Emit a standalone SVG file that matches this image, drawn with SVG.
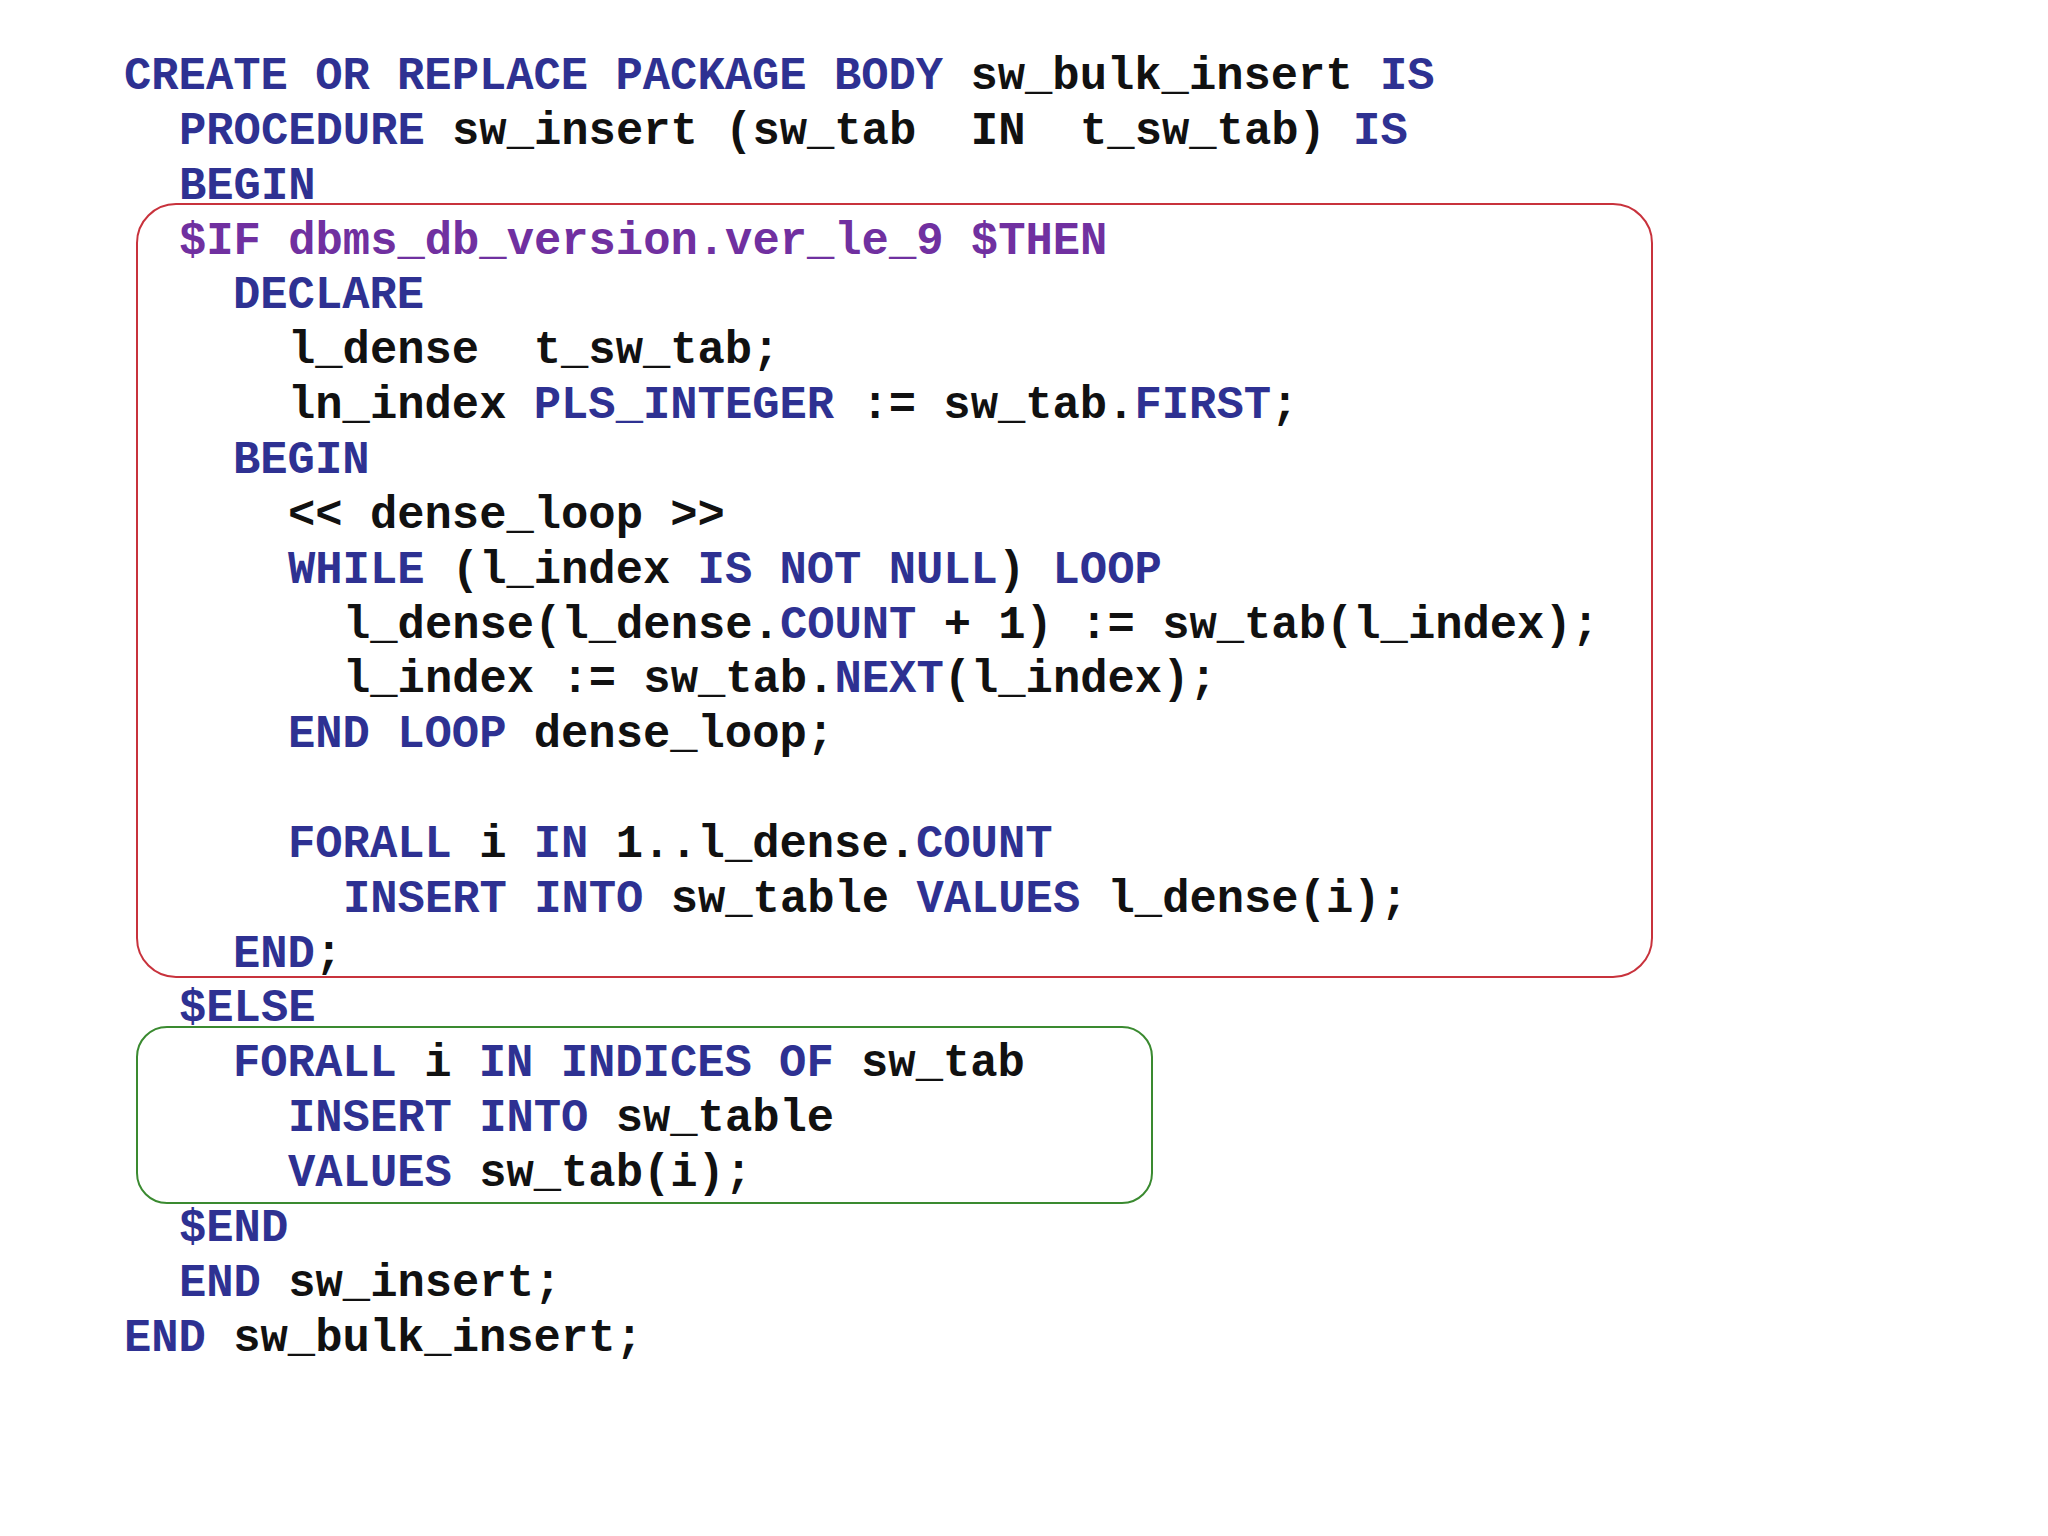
<svg xmlns="http://www.w3.org/2000/svg" width="2048" height="1536" viewBox="0 0 2048 1536">
<style>
text{font-family:"Liberation Mono","Courier New",monospace;font-weight:bold;font-size:45.5px;fill:#111;white-space:pre}
.k{fill:#2e3192}
.p{fill:#7030a0}
</style>
<rect width="2048" height="1536" fill="#fff"/>
<g id="boxes">
<rect id="ifbox" x="137" y="204" width="1515" height="773" rx="39" fill="none" stroke="#c8323c" stroke-width="2"/>
<rect id="elsebox" x="137" y="1027" width="1015" height="176" rx="30" fill="none" stroke="#3a8a30" stroke-width="2"/>
</g>
<g id="code" xml:space="preserve">
<text x="124" y="89"><tspan class="k">CREATE OR REPLACE PACKAGE BODY</tspan> sw_bulk_insert <tspan class="k">IS</tspan></text>
<text x="179" y="144"><tspan class="k">PROCEDURE</tspan> sw_insert (sw_tab  IN  t_sw_tab) <tspan class="k">IS</tspan></text>
<text x="179" y="199"><tspan class="k">BEGIN</tspan></text>
<text x="179" y="254"><tspan class="p">$IF dbms_db_version.ver_le_9 $THEN</tspan></text>
<text x="233" y="308"><tspan class="k">DECLARE</tspan></text>
<text x="288" y="363">l_dense  t_sw_tab;</text>
<text x="288" y="418">ln_index <tspan class="k">PLS_INTEGER</tspan> := sw_tab.<tspan class="k">FIRST</tspan>;</text>
<text x="233" y="473"><tspan class="k">BEGIN</tspan></text>
<text x="288" y="528">&lt;&lt; dense_loop &gt;&gt;</text>
<text x="288" y="583"><tspan class="k">WHILE</tspan> (l_index <tspan class="k">IS NOT NULL</tspan>) <tspan class="k">LOOP</tspan></text>
<text x="343" y="638">l_dense(l_dense.<tspan class="k">COUNT</tspan> + 1) := sw_tab(l_index);</text>
<text x="343" y="692">l_index := sw_tab.<tspan class="k">NEXT</tspan>(l_index);</text>
<text x="288" y="747"><tspan class="k">END LOOP</tspan> dense_loop;</text>
<text x="288" y="857"><tspan class="k">FORALL</tspan> i <tspan class="k">IN</tspan> 1..l_dense.<tspan class="k">COUNT</tspan></text>
<text x="343" y="912"><tspan class="k">INSERT INTO</tspan> sw_table <tspan class="k">VALUES</tspan> l_dense(i);</text>
<text x="233" y="967"><tspan class="k">END</tspan>;</text>
<text x="179" y="1021"><tspan class="k">$ELSE</tspan></text>
<text x="233" y="1076"><tspan class="k">FORALL</tspan> i <tspan class="k">IN INDICES OF</tspan> sw_tab</text>
<text x="288" y="1131"><tspan class="k">INSERT INTO</tspan> sw_table</text>
<text x="288" y="1186"><tspan class="k">VALUES</tspan> sw_tab(i);</text>
<text x="179" y="1241"><tspan class="k">$END</tspan></text>
<text x="179" y="1296"><tspan class="k">END</tspan> sw_insert;</text>
<text x="124" y="1351"><tspan class="k">END</tspan> sw_bulk_insert;</text>
</g>
</svg>
